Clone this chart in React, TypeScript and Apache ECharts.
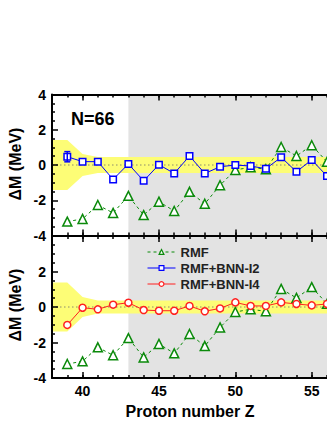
import React, { useEffect, useRef } from 'react';
import * as echarts from 'echarts';

// ---- data ----
const protonZ = [39, 40, 41, 42, 43, 44, 45, 46, 47, 48, 49, 50, 51, 52, 53, 54, 55, 56];
const rmf = [-3.21, -3.06, -2.27, -2.72, -1.75, -2.84, -2.08, -2.61, -1.52, -2.2, -1.15, -0.28, -0.13, -0.24, 1.02, 0.51, 1.12, 0.18];
const bnnI2 = [0.47, 0.19, 0.19, -0.82, 0.06, -0.9, 0.02, -0.48, 0.51, -0.48, -0.1, 0.0, -0.06, -0.21, 0.44, -0.38, 0.29, -0.63];
const bnnI4 = [-1.01, -0.04, -0.13, 0.13, 0.24, -0.17, -0.21, -0.21, 0.06, -0.24, -0.08, 0.26, 0.06, 0.06, 0.26, 0.17, 0.09, 0.17];
const errZ = [39];
const errVal = [0.47];
const errHalf = [0.29];
const bandZ = [38, 39, 40, 41, 56];
const bandHalfTop = [1.42, 1.42, 0.63, 0.45, 0.45];
const bandHalfBottom = [1.38, 1.38, 0.56, 0.37, 0.37];
const shadeFrom = [43, 56];
const xRange = [38, 56];
const yRange = [-4, 4];
const xMajor = [40, 45, 50, 55];
const seriesNames = ['RMF', 'RMF+BNN-I2', 'RMF+BNN-I4'];

const FONT = '"Liberation Sans", Arial, sans-serif';
const GREEN = '#0b8a0b';
const BLUE = '#0000ff';
const RED = '#ff2020';
const YELLOW = '#fdfd76';
const GRAY = '#e3e3e3';

function xAx(grid: number, position: 'top' | 'bottom', major: boolean, line: boolean, labels: boolean) {
  return {
    type: 'value',
    gridIndex: grid,
    position,
    min: xRange[0],
    max: xRange[1],
    interval: 1,
    z: 10,
    axisLine: { show: line, onZero: false, lineStyle: { color: '#000', width: 2 } },
    axisTick: major
      ? { show: true, inside: true, length: 6, customValues: xMajor, lineStyle: { color: '#000', width: 1.5 } }
      : { show: true, inside: true, length: 3, lineStyle: { color: '#000', width: 1.5 } },
    axisLabel: labels
      ? { show: true, customValues: xMajor, fontFamily: FONT, fontWeight: 'bold', fontSize: 14, color: '#000', margin: 6 }
      : { show: false },
    splitLine: { show: false },
  };
}

function yAx(grid: number, showMax: boolean) {
  return {
    type: 'value',
    gridIndex: grid,
    min: yRange[0],
    max: yRange[1],
    interval: 2,
    z: 10,
    axisLine: { show: true, onZero: false, lineStyle: { color: '#000', width: 2 } },
    axisTick: { show: true, inside: true, length: 6, lineStyle: { color: '#000', width: 1.5 } },
    minorTick: { show: true, splitNumber: 4, length: 3, lineStyle: { color: '#000', width: 1.5 } },
    axisLabel: { fontFamily: FONT, fontWeight: 'bold', fontSize: 14, color: '#000', margin: 6, showMaxLabel: showMax },
    splitLine: { show: false },
    minorSplitLine: { show: false },
  };
}

function shadeSeries(grid: number) {
  return {
    type: 'custom',
    xAxisIndex: grid * 4,
    yAxisIndex: grid,
    silent: true,
    z: 1,
    data: [[shadeFrom[0], yRange[1]]],
    renderItem: (params: any, api: any) => {
      const p1 = api.coord([shadeFrom[0], yRange[1]]);
      const p2 = api.coord([shadeFrom[1], yRange[0]]);
      return {
        type: 'rect',
        shape: { x: p1[0], y: p1[1], width: p2[0] - p1[0], height: p2[1] - p1[1] },
        style: { fill: GRAY },
      };
    },
  };
}

function bandSeries(grid: number, half: number[]) {
  return {
    type: 'custom',
    xAxisIndex: grid * 4,
    yAxisIndex: grid,
    silent: true,
    z: 2,
    data: [[bandZ[0], half[0]]],
    renderItem: (params: any, api: any) => {
      const pts: number[][] = [];
      for (let i = 0; i < bandZ.length; i++) pts.push(api.coord([bandZ[i], half[i]]));
      for (let i = bandZ.length - 1; i >= 0; i--) pts.push(api.coord([bandZ[i], -half[i]]));
      return { type: 'polygon', shape: { points: pts }, style: { fill: YELLOW } };
    },
  };
}

function zeroSeries(grid: number) {
  return {
    type: 'line',
    xAxisIndex: grid * 4,
    yAxisIndex: grid,
    silent: true,
    z: 3,
    symbol: 'none',
    data: [[xRange[0], 0], [xRange[1], 0]],
    lineStyle: { color: '#8c8c6e', width: 1, type: [1.5, 2.5] },
  };
}

function dataSeries(grid: number, name: string, vals: number[], color: string, symbol: string, size: number, dashed: boolean, z: number) {
  return {
    type: 'line',
    name,
    xAxisIndex: grid * 4,
    yAxisIndex: grid,
    z,
    data: protonZ.map((zv, i) => [zv, vals[i]]),
    symbol,
    symbolSize: size,
    showAllSymbol: true,
    clip: false,
    lineStyle: { color, width: 1, type: dashed ? [3, 3] : 'solid' },
    itemStyle: { color: '#fff', borderColor: color, borderWidth: 1.5 },
  };
}

export default function App() {
  const ref = useRef<HTMLDivElement>(null);
  useEffect(() => {
    const chart = echarts.init(ref.current!, null, { renderer: 'svg' });
    const option: any = {
      animation: false,
      backgroundColor: '#fff',
      grid: [
        { left: 52, top: 94.5, width: 275.5, height: 141 },
        { left: 52, top: 236, width: 275.5, height: 142 },
      ],
      xAxis: [
        xAx(0, 'bottom', false, true, false),
        xAx(0, 'bottom', true, false, false),
        xAx(0, 'top', false, true, false),
        xAx(0, 'top', true, false, false),
        xAx(1, 'bottom', false, true, false),
        xAx(1, 'bottom', true, false, true),
        xAx(1, 'top', false, false, false),
        xAx(1, 'top', true, false, false),
      ],
      yAxis: [yAx(0, true), yAx(1, false)],
      legend: {
        data: seriesNames,
        orient: 'vertical',
        left: 142,
        top: 240,
        itemWidth: 28,
        itemHeight: 6,
        itemGap: 2,
        selectedMode: false,
        lineStyle: { width: 1 },
        itemStyle: { borderWidth: 1.2 },
        textStyle: { fontFamily: FONT, fontWeight: 'bold', fontSize: 13, color: '#222', lineHeight: 14 },
      },
      graphic: [
        { type: 'text', left: 71, top: 110, style: { text: 'N=66', font: 'bold 18px ' + FONT, fill: '#000' } },
        { type: 'text', x: 15.5, y: 164, rotation: Math.PI / 2, style: { text: 'ΔM (MeV)', font: 'bold 16px ' + FONT, fill: '#000', textAlign: 'center', textVerticalAlign: 'middle' } },
        { type: 'text', x: 15.5, y: 305, rotation: Math.PI / 2, style: { text: 'ΔM (MeV)', font: 'bold 16px ' + FONT, fill: '#000', textAlign: 'center', textVerticalAlign: 'middle' } },
        { type: 'text', x: 190, y: 411.5, style: { text: 'Proton number Z', font: 'bold 16px ' + FONT, fill: '#000', textAlign: 'center', textVerticalAlign: 'middle' } },
      ],
      series: [
        shadeSeries(0),
        shadeSeries(1),
        bandSeries(0, bandHalfTop),
        bandSeries(1, bandHalfBottom),
        zeroSeries(0),
        zeroSeries(1),
        dataSeries(0, 'RMF', rmf, GREEN, 'triangle', 9, true, 4),
        dataSeries(0, 'RMF+BNN-I2', bnnI2, BLUE, 'rect', 6.5, false, 5),
        {
          type: 'custom',
          xAxisIndex: 0,
          yAxisIndex: 0,
          z: 6,
          silent: true,
          data: errZ.map((zv, i) => [zv, errVal[i], errHalf[i]]),
          renderItem: (params: any, api: any) => {
            const x = api.value(0);
            const y = api.value(1);
            const e = api.value(2);
            const top = api.coord([x, y + e]);
            const bot = api.coord([x, y - e]);
            const st = { stroke: BLUE, lineWidth: 1.5 };
            return {
              type: 'group',
              children: [
                { type: 'line', shape: { x1: top[0], y1: top[1], x2: bot[0], y2: bot[1] }, style: st },
                { type: 'line', shape: { x1: top[0] - 3, y1: top[1], x2: top[0] + 3, y2: top[1] }, style: st },
                { type: 'line', shape: { x1: bot[0] - 3, y1: bot[1], x2: bot[0] + 3, y2: bot[1] }, style: st },
              ],
            };
          },
        },
        dataSeries(1, 'RMF', rmf, GREEN, 'triangle', 9, true, 4),
        dataSeries(1, 'RMF+BNN-I4', bnnI4, RED, 'circle', 7, false, 5),
      ],
    };
    chart.setOption(option);
    return () => chart.dispose();
  }, []);
  return <div ref={ref} style={{ position: 'absolute', left: 0, top: 0, width: 327, height: 423 }} />;
}
